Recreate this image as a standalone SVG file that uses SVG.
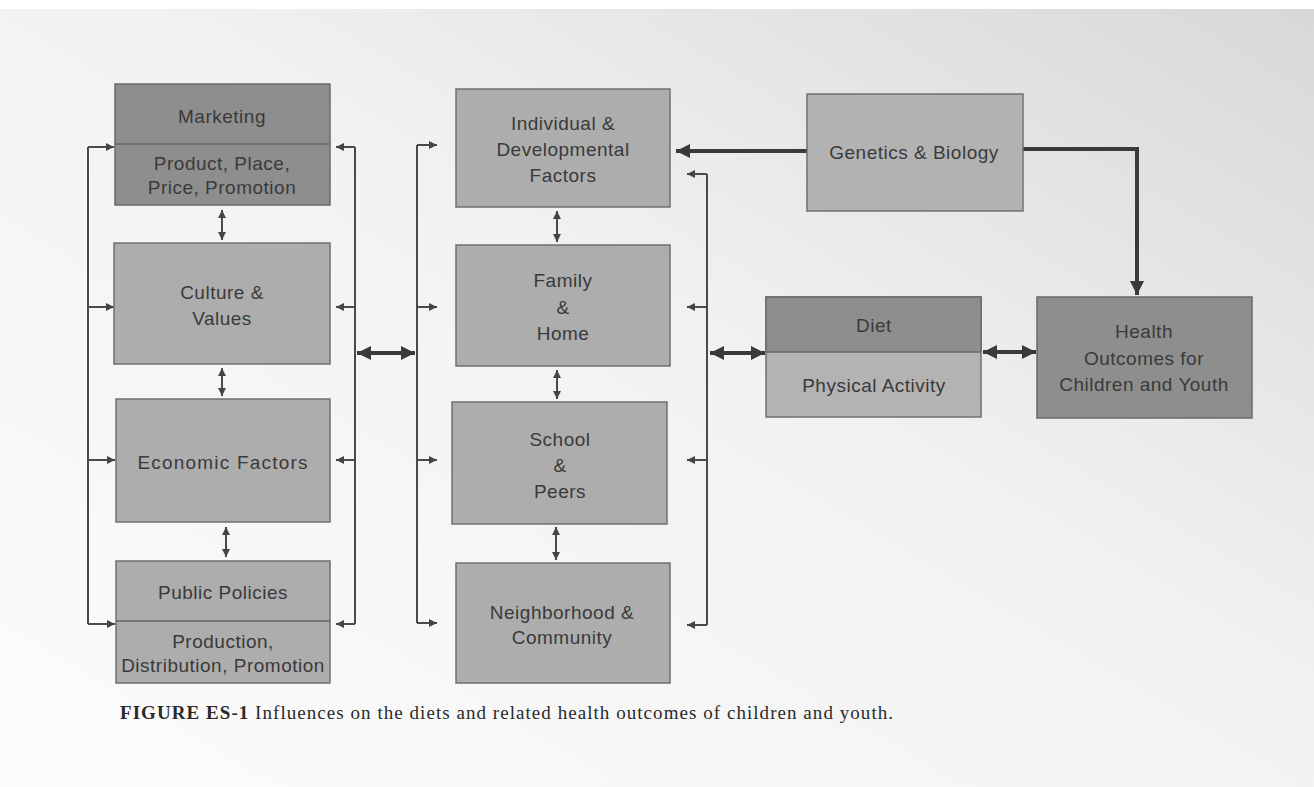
<svg xmlns="http://www.w3.org/2000/svg" width="1314" height="787" viewBox="0 0 1314 787">
<defs>
<linearGradient id="bg" x1="0" y1="1" x2="1" y2="0">
<stop offset="0" stop-color="#fcfcfc"/>
<stop offset="0.55" stop-color="#f2f2f2"/>
<stop offset="1" stop-color="#d8d8d8"/>
</linearGradient>
<marker id="ah" viewBox="0 0 10 10" refX="10" refY="5" markerWidth="9" markerHeight="8" markerUnits="userSpaceOnUse" orient="auto-start-reverse">
<path d="M0,0 L10,5 L0,10 z" fill="#444"/>
</marker>
<marker id="ahb" viewBox="0 0 10 10" refX="10" refY="5" markerWidth="15" markerHeight="14" markerUnits="userSpaceOnUse" orient="auto-start-reverse">
<path d="M0,0 L10,5 L0,10 z" fill="#3a3a3a"/>
</marker>
<style>
.box{fill:#adadad;stroke:#707070;stroke-width:1.5}
.dark{fill:#8e8e8e;stroke:#6a6a6a;stroke-width:1.5}
.div{stroke:#666;stroke-width:1.5}
.t{font-family:"Liberation Sans",Arial,sans-serif;font-size:19px;fill:#3a3a3a;text-anchor:middle;letter-spacing:0.5px}
.thin{fill:none;stroke:#4a4a4a;stroke-width:2}
.thick{fill:none;stroke:#3a3a3a;stroke-width:4}
.cap{font-family:"Liberation Serif","Times New Roman",serif;font-size:19px;fill:#2a2a2a}
</style>
</defs>
<rect x="0" y="0" width="1314" height="787" fill="#ffffff"/>
<rect x="0" y="9" width="1314" height="778" fill="url(#bg)"/>

<g id="connectors">
<path class="thin" d="M88,147 V624"/>
<line class="thin" x1="88" y1="147" x2="114" y2="147" marker-end="url(#ah)"/>
<line class="thin" x1="88" y1="307" x2="114" y2="307" marker-end="url(#ah)"/>
<line class="thin" x1="88" y1="460" x2="115" y2="460" marker-end="url(#ah)"/>
<line class="thin" x1="88" y1="624" x2="115" y2="624" marker-end="url(#ah)"/>
<path class="thin" d="M355,147 V624"/>
<line class="thin" x1="355" y1="147" x2="336" y2="147" marker-end="url(#ah)"/>
<line class="thin" x1="355" y1="307" x2="336" y2="307" marker-end="url(#ah)"/>
<line class="thin" x1="355" y1="460" x2="336" y2="460" marker-end="url(#ah)"/>
<line class="thin" x1="355" y1="624" x2="336" y2="624" marker-end="url(#ah)"/>
<path class="thin" d="M417,145 V623"/>
<line class="thin" x1="417" y1="145" x2="437" y2="145" marker-end="url(#ah)"/>
<line class="thin" x1="417" y1="307" x2="437" y2="307" marker-end="url(#ah)"/>
<line class="thin" x1="417" y1="460" x2="437" y2="460" marker-end="url(#ah)"/>
<line class="thin" x1="417" y1="623" x2="437" y2="623" marker-end="url(#ah)"/>
<path class="thin" d="M707,174 V625"/>
<line class="thin" x1="707" y1="174" x2="687" y2="174" marker-end="url(#ah)"/>
<line class="thin" x1="707" y1="307" x2="687" y2="307" marker-end="url(#ah)"/>
<line class="thin" x1="707" y1="460" x2="687" y2="460" marker-end="url(#ah)"/>
<line class="thin" x1="707" y1="625" x2="687" y2="625" marker-end="url(#ah)"/>
<line class="thin" x1="222" y1="210" x2="222" y2="240" marker-start="url(#ah)" marker-end="url(#ah)"/>
<line class="thin" x1="222" y1="368" x2="222" y2="396" marker-start="url(#ah)" marker-end="url(#ah)"/>
<line class="thin" x1="226" y1="527" x2="226" y2="557" marker-start="url(#ah)" marker-end="url(#ah)"/>
<line class="thin" x1="557" y1="211" x2="557" y2="242" marker-start="url(#ah)" marker-end="url(#ah)"/>
<line class="thin" x1="557" y1="370" x2="557" y2="399" marker-start="url(#ah)" marker-end="url(#ah)"/>
<line class="thin" x1="556" y1="527" x2="556" y2="560" marker-start="url(#ah)" marker-end="url(#ah)"/>
<line class="thick" x1="357" y1="353" x2="415" y2="353" marker-start="url(#ahb)" marker-end="url(#ahb)"/>
<line class="thick" x1="710" y1="353" x2="765" y2="353" marker-start="url(#ahb)" marker-end="url(#ahb)"/>
<line class="thick" x1="983" y1="352" x2="1036" y2="352" marker-start="url(#ahb)" marker-end="url(#ahb)"/>
<line class="thick" x1="807" y1="151" x2="676" y2="151" stroke-width="3.5" marker-end="url(#ahb)"/>
<path class="thick" stroke-width="3" d="M1023,149 H1137 V295" marker-end="url(#ahb)"/>
</g>

<g id="marketing">
<rect class="dark" x="115" y="84" width="215" height="121"/>
<line class="div" x1="115" y1="144" x2="330" y2="144"/>
<text class="t" x="222" y="123">Marketing</text>
<text class="t" x="222" y="170">Product, Place,</text>
<text class="t" x="222" y="194">Price, Promotion</text>
</g>
<g id="culture">
<rect class="box" x="114" y="243" width="216" height="121"/>
<text class="t" x="222" y="299">Culture &amp;</text>
<text class="t" x="222" y="325">Values</text>
</g>
<g id="economic">
<rect class="box" x="116" y="399" width="214" height="123"/>
<text class="t" x="223" y="469" style="letter-spacing:1.2px">Economic Factors</text>
</g>
<g id="public-policies">
<rect class="box" x="116" y="561" width="214" height="122"/>
<line class="div" x1="116" y1="621" x2="330" y2="621"/>
<text class="t" x="223" y="599">Public Policies</text>
<text class="t" x="223" y="648">Production,</text>
<text class="t" x="223" y="672">Distribution, Promotion</text>
</g>

<g id="individual">
<rect class="box" x="456" y="89" width="214" height="118"/>
<text class="t" x="563" y="130">Individual &amp;</text>
<text class="t" x="563" y="156">Developmental</text>
<text class="t" x="563" y="182">Factors</text>
</g>
<g id="family">
<rect class="box" x="456" y="245" width="214" height="121"/>
<text class="t" x="563" y="287">Family</text>
<text class="t" x="563" y="314">&amp;</text>
<text class="t" x="563" y="340">Home</text>
</g>
<g id="school">
<rect class="box" x="452" y="402" width="215" height="122"/>
<text class="t" x="560" y="446">School</text>
<text class="t" x="560" y="472">&amp;</text>
<text class="t" x="560" y="498">Peers</text>
</g>
<g id="neighborhood">
<rect class="box" x="456" y="563" width="214" height="120"/>
<text class="t" x="562" y="619">Neighborhood &amp;</text>
<text class="t" x="562" y="644">Community</text>
</g>

<g id="genetics">
<rect class="box" x="807" y="94" width="216" height="117" style="fill:#b2b2b2"/>
<text class="t" x="914" y="159">Genetics &amp; Biology</text>
</g>
<g id="diet">
<rect class="box" x="766" y="297" width="215" height="120" style="fill:#b3b3b3"/>
<rect class="dark" x="766" y="297" width="215" height="55"/>
<text class="t" x="874" y="332">Diet</text>
<text class="t" x="874" y="392">Physical Activity</text>
</g>
<g id="health">
<rect class="dark" x="1037" y="297" width="215" height="121"/>
<text class="t" x="1144" y="338">Health</text>
<text class="t" x="1144" y="365">Outcomes for</text>
<text class="t" x="1144" y="391">Children and Youth</text>
</g>

<text class="cap" x="120" y="719" textLength="773" lengthAdjust="spacing"><tspan font-weight="bold">FIGURE ES-1</tspan> Influences on the diets and related health outcomes of children and youth.</text>
</svg>
